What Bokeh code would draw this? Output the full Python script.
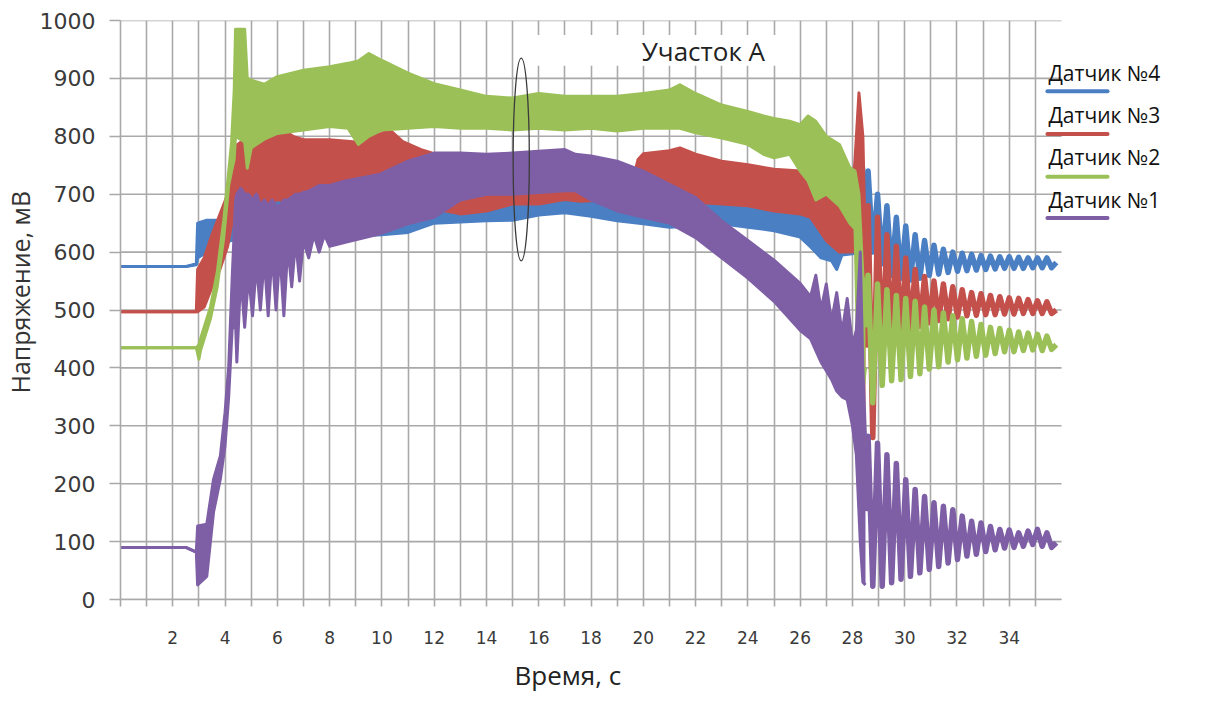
from bokeh.plotting import figure
from bokeh.models import FixedTicker, Label, Arrow, Title
from bokeh.embed import file_html
from bokeh.resources import INLINE

# ---------------- data ----------------
x_ticks = [0, 1, 2, 3, 4, 5, 6, 7, 8, 9, 10, 11, 12, 13, 14, 15, 16, 17, 18, 19,
           20, 21, 22, 23, 24, 25, 26, 27, 28, 29, 30, 31, 32, 33, 34, 35]
x_labeled = [2, 4, 6, 8, 10, 12, 14, 16, 18, 20, 22, 24, 26, 28, 30, 32, 34]
y_ticks = [0, 100, 200, 300, 400, 500, 600, 700, 800, 900, 1000]
x_end = 36

names = ["Датчик №4", "Датчик №3", "Датчик №2", "Датчик №1"]
colors = ["#4a7fc4", "#c4504c", "#9bc057", "#7e5fa6"]

# Sensor 4 (blue): envelope of the noisy band
s4_t = [0, 2.5, 2.9, 2.95, 3.3, 3.8, 4.2, 5, 6, 7, 8, 9, 10, 11, 12, 13, 14, 15, 16, 17, 18,
        19, 20, 21, 22, 23, 24, 25, 26, 26.4, 26.8, 27.2, 27.4, 27.6, 28.0, 28.2, 28.4, 28.5]
s4_lo = [575, 575, 578, 590, 600, 605, 620, 620, 625, 625, 625, 628, 630, 634, 650, 652, 654, 655,
         664, 668, 662, 654, 649, 643, 645, 649, 643, 637, 626, 609, 590, 585, 570, 595, 597, 600, 620, 640]
s4_hi = [575, 575, 580, 650, 655, 655, 680, 690, 690, 690, 690, 690, 690, 690, 690, 690, 690, 690,
         695, 695, 695, 695, 695, 690, 690, 690, 690, 685, 670, 655, 635, 625, 620, 630, 630, 700, 757, 720]

# Sensor 3 (red)
s3_t = [0, 2.9, 2.95, 3.2, 3.5, 3.8, 4.1, 4.3, 4.6, 5, 5.5, 6, 6.2, 6.6, 7, 8, 9, 9.5, 10, 10.3,
        10.8, 11.5, 12, 13, 14, 15, 16, 17, 17.6, 18.5, 19.5, 19.8, 20, 21, 21.4, 22, 23, 24, 25, 26,
        26.4, 27, 27.5, 28, 28.1, 28.25, 28.4, 28.5]
s3_lo = [497, 497, 497, 505, 540, 570, 610, 660, 680, 680, 685, 690, 690, 690, 695, 700, 700, 700, 700, 700,
         695, 685, 675, 666, 671, 683, 683, 691, 688, 690, 690, 690, 695, 690, 690, 686, 683, 680, 671, 666,
         660, 620, 600, 600, 700, 420, 300, 270]
s3_hi = [497, 497, 570, 590, 630, 665, 700, 780, 790, 795, 795, 800, 812, 800, 794, 794, 790, 800, 805, 811,
         791, 777, 770, 705, 705, 705, 705, 706, 706, 706, 706, 760, 770, 775, 780, 769, 757, 751, 743, 740,
         730, 700, 680, 700, 760, 875, 800, 600]

# Sensor 2 (green)
s2_t = [0, 2.9, 3.0, 3.06, 3.44, 3.7, 3.95, 4.14, 4.25, 4.35, 4.4, 4.75, 4.85, 5.0, 5.5, 6, 7, 8, 8.7, 9.1,
        9.5, 10, 11, 12, 13, 14, 15, 16, 17, 18, 19, 20, 21, 21.4, 22, 23, 24, 24.6, 25, 25.6,
        26, 26.3, 26.6, 27, 27.5, 27.9, 28.1, 28.25, 28.4, 28.5]
s2_lo = [435, 435, 415, 430, 485, 540, 625, 715, 740, 760, 800, 790, 745, 780, 795, 805, 811, 817, 814, 786,
         800, 811, 814, 817, 814, 814, 811, 814, 811, 814, 809, 814, 814, 814, 806, 797, 786, 769, 763, 769,
         740, 723, 690, 700, 680, 650, 640, 320, 360, 400]
s2_hi = [435, 435, 440, 450, 505, 565, 655, 740, 790, 880, 985, 985, 900, 897, 890, 903, 914, 920, 926, 930,
         943, 931, 909, 891, 880, 869, 866, 874, 869, 869, 869, 874, 880, 889, 874, 854, 843, 835, 831, 826,
         820, 835, 826, 800, 786, 746, 740, 700, 560, 540]

# Sensor 1 (purple)
s1_t = [0, 2.5, 2.9, 2.95, 3.3, 3.56, 3.82, 4.0, 4.14, 4.27, 4.4, 4.45, 4.6, 4.75, 4.9, 5.05, 5.2, 5.35, 5.5, 5.65,
        5.8, 5.95, 6.1, 6.25, 6.4, 6.55, 6.7, 6.85, 7.0, 7.2, 7.4, 7.6, 7.8, 8.0, 8.6, 9.9, 11, 12, 13, 14,
        15, 16, 17, 17.4, 18, 19, 20, 21, 22, 23, 24, 25, 26, 26.4, 26.6, 26.8, 27.0, 27.2, 27.4, 27.6,
        27.8, 28.0, 28.15, 28.3, 28.4, 28.5]
s1_lo = [90, 90, 82, 25, 40, 151, 208, 266, 351, 466, 480, 410, 560, 470, 560, 490, 580, 500, 590, 490,
         600, 500, 600, 490, 610, 540, 620, 550, 620, 590, 630, 600, 630, 610, 617, 631, 649, 660, 690, 700,
         700, 703, 706, 706, 690, 671, 660, 650, 625, 590, 555, 515, 465, 450, 430, 410, 395, 380, 360, 350,
         345, 300, 250, 100, 30, 25]
s1_hi = [90, 90, 82, 127, 130, 208, 248, 323, 403, 552, 690, 700, 710, 700, 700, 690, 700, 680, 690, 680,
         690, 680, 680, 690, 690, 695, 700, 700, 703, 705, 710, 715, 715, 715, 723, 734, 757, 771, 771, 769,
         771, 774, 777, 769, 766, 757, 740, 717, 694, 654, 620, 586, 546, 523, 560, 500, 545, 480, 530, 460,
         520, 440, 465, 600, 400, 280]

# Decaying oscillation after 28.5 s: alternating peaks / troughs
tail_t = [28.6, 28.78, 28.96, 29.14, 29.32, 29.5, 29.68, 29.86, 30.04, 30.22, 30.4, 30.58, 30.76, 30.94,
          31.12, 31.3, 31.48, 31.66, 31.84, 32.02, 32.2, 32.38, 32.56, 32.74, 32.92, 33.1, 33.28, 33.46,
          33.64, 33.82, 34.0, 34.18, 34.36, 34.54, 34.72, 34.9, 35.08, 35.26, 35.44, 35.62, 35.8]
s4_tail = [740, 600, 700, 580, 680, 560, 660, 555, 645, 552, 630, 555, 620, 560, 612, 562, 605, 565, 600, 567,
           598, 568, 596, 569, 594, 570, 593, 571, 592, 572, 592, 572, 591, 572, 590, 573, 590, 573, 590, 573, 582]
s3_tail = [680, 280, 660, 420, 630, 445, 610, 455, 590, 465, 570, 472, 558, 478, 550, 482, 545, 485, 540, 488,
           535, 490, 530, 491, 528, 492, 525, 492, 523, 493, 521, 493, 520, 494, 518, 494, 516, 494, 514, 494, 500]
s2_tail = [560, 340, 545, 370, 535, 378, 525, 380, 520, 385, 515, 390, 505, 398, 500, 402, 495, 410, 490, 414,
           485, 417, 480, 420, 475, 422, 470, 425, 468, 428, 465, 428, 462, 430, 460, 431, 458, 430, 455, 432, 440]
s1_tail = [282, 23, 270, 23, 250, 29, 235, 35, 207, 40, 190, 46, 178, 52, 167, 57, 161, 63, 155, 69,
           144, 75, 135, 78, 132, 83, 126, 86, 121, 89, 120, 90, 115, 92, 118, 95, 121, 92, 115, 90, 98]

series = [
    (s4_t, s4_lo, s4_hi, s4_tail),
    (s3_t, s3_lo, s3_hi, s3_tail),
    (s2_t, s2_lo, s2_hi, s2_tail),
    (s1_t, s1_lo, s1_hi, s1_tail),
]

# ---------------- figure ----------------
GRID = "#a9a9a9"
PX_PER_S = 26.14
W, H = 1206, 701
LEFT, TOP, BOTTOM = 120, 20, 100
x_max = (W - LEFT) / PX_PER_S   # frame runs to the right edge so the legend is inside it

p = figure(width=W, height=H, x_range=(0, x_max), y_range=(0, 1000),
           output_backend="svg", toolbar_location=None,
           min_border_left=LEFT, min_border_right=0, min_border_top=TOP, min_border_bottom=BOTTOM)
p.outline_line_color = None
p.background_fill_color = "white"
p.border_fill_color = "white"

p.xaxis.ticker = FixedTicker(ticks=x_ticks)
p.yaxis.ticker = FixedTicker(ticks=y_ticks)
p.xgrid.ticker = FixedTicker(ticks=x_ticks)
p.xaxis.major_label_overrides = {t: (str(t) if t in x_labeled else "") for t in x_ticks}
p.xaxis.bounds = (0, x_end)

p.xgrid.grid_line_color = GRID
p.xgrid.grid_line_width = 1.6
p.ygrid.grid_line_color = None
# horizontal grid lines limited to the plotting area (0 .. x_end)
p.segment(x0=[0] * len(y_ticks), x1=[x_end] * len(y_ticks), y0=y_ticks, y1=y_ticks,
          line_color=GRID, line_width=1.6)

for ax in (p.xaxis, p.yaxis):
    ax.axis_line_color = GRID
    ax.axis_line_width = 1.6
    ax.major_tick_line_color = GRID
    ax.major_tick_line_width = 1.6
    ax.major_tick_in = 0
    ax.minor_tick_line_color = None
    ax.major_label_text_font = "DejaVu Sans"
    ax.major_label_text_color = "#3a3a3a"

p.xaxis.major_tick_out = 7
p.xaxis.major_label_standoff = 24
p.xaxis.major_label_text_font_size = "17px"
p.yaxis.major_tick_out = 11
p.yaxis.major_label_standoff = 14
p.yaxis.major_label_text_font_size = "22px"

# axis titles (as titles so that they can be positioned freely outside the frame)
p.add_layout(Title(text="Время, с", align="left", offset=394, standoff=17,
                   text_font="Open Sans", text_font_size="26px", text_font_style="normal",
                   text_color="#222222"), "below")
p.add_layout(Title(text="Напряжение, мВ", align="left", offset=206, standoff=0,
                   text_font="Open Sans", text_font_size="25px", text_font_style="normal",
                   text_color="#333333"), "left")

# white box behind the annotation text
p.quad(left=[15.75], right=[25.6], bottom=[922], top=[975], fill_color="white", line_color=None)

for (t, lo, hi, tail), c in zip(series, colors):
    p.varea(x=t, y1=lo, y2=hi, fill_color=c)
    p.line(t, lo, line_color=c, line_width=3, line_join="round")
    p.line(t, hi, line_color=c, line_width=3, line_join="round")
    tx = [t[-1]] + tail_t
    ty = [(lo[-1] + hi[-1]) / 2] + tail
    p.line(tx, ty, line_color=c, line_width=5.5, line_join="round")

# "Участок А" ellipse
p.ellipse(x=[15.33], y=[760], width=0.62, height=350, fill_color=None,
          line_color="#3a3a3a", line_width=1.3)

p.add_layout(Label(x=22.3, y=948, text="Участок А", text_align="center", text_baseline="middle",
                   text_font="Open Sans", text_font_size="26px", text_color="#222222"))

# legend: text with a short coloured line underneath
leg_text_y = [910, 836, 764, 690]
leg_line_y = [878, 804, 730, 659]
for nm, c, ty, ly in zip(names, colors, leg_text_y, leg_line_y):
    p.add_layout(Label(x=35.5, y=ty, text=nm, text_align="left", text_baseline="middle",
                       text_font="Open Sans", text_font_size="21px", text_color="#111111"))
    p.add_layout(Arrow(end=None, x_start=35.46, y_start=ly, x_end=37.76, y_end=ly,
                       line_color=c, line_width=4, line_cap="round"))

open("out.html", "w").write(file_html(p, INLINE))
